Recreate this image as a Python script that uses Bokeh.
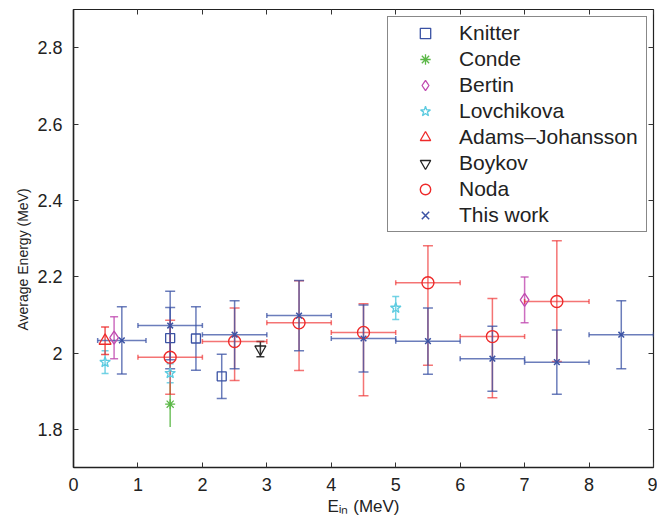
from bokeh.plotting import figure
from bokeh.models import (ColumnDataSource, Whisker, TeeHead, Range1d, LinearAxis,
                          FixedTicker, Legend, LegendItem, Title)
from bokeh.embed import file_html
from bokeh.resources import INLINE

# ---------------- data ----------------
x_ticks = [0, 1, 2, 3, 4, 5, 6, 7, 8, 9]
y_ticks = [1.8, 2.0, 2.2, 2.4, 2.6, 2.8]
y_tick_labels = ["1.8", "2", "2.2", "2.4", "2.6", "2.8"]

knitter_x = [1.5, 1.9, 2.3]
knitter_y = [2.039, 2.038, 1.939]
knitter_err = [0.08, 0.083, 0.058]

conde_x = [1.5]
conde_y = [1.866]
conde_err = [0.06]

bertin_x = [0.63, 7.0]
bertin_y = [2.040, 2.139]
bertin_err = [0.055, 0.06]

lovch_x = [0.49, 1.5, 5.0]
lovch_y = [1.976, 1.947, 2.118]
lovch_err = [0.03, 0.025, 0.03]

adams_x = [0.49]
adams_y = [2.032]
adams_err = [0.036]

boykov_x = [2.9]
boykov_y = [2.01]
boykov_err = [0.02]

noda_x = [1.5, 2.5, 3.5, 4.5, 5.5, 6.5, 7.5]
noda_y = [1.989, 2.030, 2.079, 2.054, 2.184, 2.043, 2.135]
noda_err_up = [0.097, 0.088, 0.11, 0.075, 0.097, 0.10, 0.159]
noda_err_dn = [0.097, 0.102, 0.125, 0.166, 0.216, 0.16, 0.157]
noda_xerr = [0.5, 0.5, 0.5, 0.5, 0.5, 0.5, 0.5]

this_x = [0.75, 1.5, 2.5, 3.5, 4.5, 5.5, 6.5, 7.5, 8.5]
this_y = [2.033, 2.072, 2.048, 2.098, 2.038, 2.031, 1.985, 1.976, 2.048]
this_err = [0.088, 0.09, 0.089, 0.092, 0.088, 0.087, 0.085, 0.084, 0.089]
this_xerr = [0.375, 0.5, 0.5, 0.5, 0.5, 0.5, 0.5, 0.5, 0.5]

# ---------------- figure ----------------
FONT = "Liberation Sans"
p = figure(width=657, height=520, x_range=Range1d(0, 9), y_range=Range1d(1.7, 2.9),
           output_backend="svg", toolbar_location=None,
           min_border_left=73, min_border_right=4, min_border_top=9, min_border_bottom=53)
p.grid.visible = False
p.outline_line_color = "#222222"
p.outline_line_width = 1.2
p.background_fill_color = "white"
p.border_fill_color = "white"


def style_axis(ax, labels=True):
    ax.major_tick_in = 5
    ax.major_tick_out = 0
    ax.minor_tick_line_color = None
    ax.major_tick_line_color = "#333333"
    ax.major_label_text_font = FONT
    ax.major_label_text_color = "#222222"
    if labels:
        ax.major_label_text_font_size = "18px"
    else:
        ax.major_label_text_font_size = "1px"
        ax.major_label_text_color = None
        ax.major_label_standoff = 0
        ax.axis_line_color = None


p.xaxis.ticker = FixedTicker(ticks=x_ticks)
p.yaxis.ticker = FixedTicker(ticks=y_ticks)
p.yaxis.major_label_overrides = {t: s for t, s in zip(y_ticks, y_tick_labels)}
style_axis(p.xaxis[0])
style_axis(p.yaxis[0])
p.xaxis.axis_line_width = 1.5
p.yaxis.axis_line_width = 1.5
p.xaxis.axis_line_color = "#222222"
p.yaxis.axis_line_color = "#222222"
p.xaxis.major_label_standoff = 10
p.yaxis.major_label_standoff = 11

p.xaxis.axis_label = "E\u1d62\u2099 (MeV)"
p.xaxis.axis_label_text_font = FONT
p.xaxis.axis_label_text_font_style = "normal"
p.xaxis.axis_label_text_font_size = "17px"
p.xaxis.axis_label_text_color = "#222222"
p.xaxis.axis_label_standoff = 3

# y axis label as a side title (lets it sit slightly below the centre, as in the original)
ylab = Title(text="Average Energy (MeV)", align="left", offset=137, standoff=8,
             text_font=FONT, text_font_size="14px", text_font_style="normal",
             text_color="#222222")
p.add_layout(ylab, "left")

top = LinearAxis(ticker=FixedTicker(ticks=x_ticks))
style_axis(top, labels=False)
p.add_layout(top, "above")
right = LinearAxis(ticker=FixedTicker(ticks=y_ticks))
style_axis(right, labels=False)
p.add_layout(right, "right")


def vbars(xs, ys, up, dn, color, alpha=0.8, width=1.5, size=10):
    src = ColumnDataSource(dict(base=xs, lower=[y - d for y, d in zip(ys, dn)],
                                upper=[y + u for y, u in zip(ys, up)]))
    w = Whisker(source=src, base="base", lower="lower", upper="upper", dimension="height",
                line_color=color, line_alpha=alpha, line_width=width,
                upper_head=TeeHead(size=size, line_color=color, line_alpha=alpha, line_width=width),
                lower_head=TeeHead(size=size, line_color=color, line_alpha=alpha, line_width=width))
    p.add_layout(w)


def hbars(xs, ys, xe, color, alpha=0.8, width=1.5, size=5):
    src = ColumnDataSource(dict(base=ys, lower=[x - e for x, e in zip(xs, xe)],
                                upper=[x + e for x, e in zip(xs, xe)]))
    w = Whisker(source=src, base="base", lower="lower", upper="upper", dimension="width",
                line_color=color, line_alpha=alpha, line_width=width,
                upper_head=TeeHead(size=size, line_color=color, line_alpha=alpha, line_width=width),
                lower_head=TeeHead(size=size, line_color=color, line_alpha=alpha, line_width=width))
    p.add_layout(w)


BLUE = "#3a52a4"
RED = "#ee2a2a"
GREEN = "#5cb848"
MAGENTA = "#c04ab0"
CYAN = "#5ccbe0"

# Knitter
vbars(knitter_x, knitter_y, knitter_err, knitter_err, BLUE, 0.75)
r_kn = p.scatter(knitter_x, knitter_y, marker="square", size=9, fill_color=None,
                 line_color=BLUE, line_width=1.3)
# Conde
vbars(conde_x, conde_y, conde_err, conde_err, GREEN, 0.85, size=0)
r_co = p.scatter(conde_x, conde_y, marker="asterisk", size=10, line_color=GREEN, line_width=1.3)
# Bertin
vbars(bertin_x, bertin_y, bertin_err, bertin_err, MAGENTA, 0.8, size=8)
r_be = p.scatter(bertin_x, bertin_y, marker="diamond", size=13, fill_color=None,
                 line_color=MAGENTA, line_width=1.3)
# Lovchikova
vbars(lovch_x, lovch_y, lovch_err, lovch_err, CYAN, 0.85, size=7)
r_lo = p.scatter(lovch_x, lovch_y, marker="star", size=11, fill_color=None,
                 line_color=CYAN, line_width=1.3)
# Adams-Johansson
vbars(adams_x, adams_y, adams_err, adams_err, RED, 0.8, size=8)
r_ad = p.scatter(adams_x, adams_y, marker="triangle", size=12, fill_color=None,
                 line_color=RED, line_width=1.3)
# Boykov
vbars(boykov_x, boykov_y, boykov_err, boykov_err, "#222222", 0.9, size=8)
r_bo = p.scatter(boykov_x, boykov_y, marker="inverted_triangle", size=11, fill_color=None,
                 line_color="#222222", line_width=1.3)
# Noda
vbars(noda_x, noda_y, noda_err_up, noda_err_dn, RED, 0.65)
hbars(noda_x, noda_y, noda_xerr, RED, 0.65)
r_no = p.scatter(noda_x, noda_y, marker="circle", size=12, fill_color=None,
                 line_color=RED, line_width=1.4)
# This work
vbars(this_x, this_y, this_err, this_err, BLUE, 0.75)
hbars(this_x, this_y, this_xerr, BLUE, 0.75)
r_th = p.scatter(this_x, this_y, marker="x", size=8, line_color=BLUE, line_width=1.5)

legend = Legend(items=[
    LegendItem(label="Knitter", renderers=[r_kn]),
    LegendItem(label="Conde", renderers=[r_co]),
    LegendItem(label="Bertin", renderers=[r_be]),
    LegendItem(label="Lovchikova", renderers=[r_lo]),
    LegendItem(label="Adams\u2013Johansson", renderers=[r_ad]),
    LegendItem(label="Boykov", renderers=[r_bo]),
    LegendItem(label="Noda", renderers=[r_no]),
    LegendItem(label="This work", renderers=[r_th]),
], location=(314, 235))
legend.label_text_font = FONT
legend.label_text_font_size = "21px"
legend.label_text_color = "#222222"
legend.label_height = 26
legend.glyph_height = 26
legend.glyph_width = 68
legend.label_width = 184
legend.label_standoff = 0
legend.spacing = 0
legend.padding = 3
legend.margin = 0
legend.border_line_color = "#111111"
legend.border_line_width = 1.5
legend.background_fill_color = "white"
legend.background_fill_alpha = 1.0
p.add_layout(legend)

open("out.html", "w").write(file_html(p, INLINE))
